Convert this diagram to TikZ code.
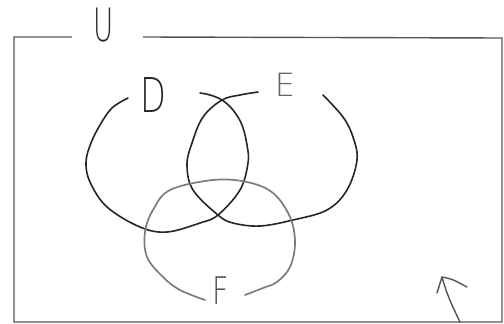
\documentclass[tikz,border=0pt]{standalone}
\usepackage{fontspec}
\newfontfamily\hand{DejaVu Sans ExtraLight}
\definecolor{ink}{HTML}{262626}
\definecolor{pencil}{HTML}{7C7C7C}
\definecolor{frame}{HTML}{555555}
\begin{document}
\begin{tikzpicture}[x=1pt,y=-1pt,
  boxline/.style={draw=frame,line width=1.4pt},
  setline/.style={draw=ink,line width=1.6pt,line cap=round,line join=round},
  fsetline/.style={draw=pencil,line width=1.7pt,line cap=round,line join=round},
  lbl/.style={inner sep=0pt,text=ink,font=\hand}]
\useasboundingbox (0,0) rectangle (504,324);
\fill[white] (0,0) rectangle (504,324);
% universal set frame
\coordinate (tl) at (14,37);
\coordinate (tlgap) at (72,37);
\coordinate (trgap) at (143,37);
\coordinate (tr) at (502,38);
\coordinate (br) at (502,322);
\coordinate (bl) at (14,322);
\draw[boxline] (tlgap) -- (tl) -- (bl) -- (br) -- (tr) -- (trgap);
\node[lbl,font=\hand\fontsize{46}{46}\selectfont,xscale=0.6] (U) at (104,25) {U};
% set D
\draw[setline] plot[smooth,tension=0.6] coordinates {(128,98) (112,108) (100,125) (91,143) (86,162) (90,182) (107,207) (140,227) (167,232) (200,223) (218,215) (240,190) (248,163) (247,145) (242,125) (233,110) (222,100) (210,95) (200,93)};
\node[lbl,font=\hand\fontsize{48}{48}\selectfont,xscale=0.7] (D) at (153,95) {D};
% set E
\draw[setline] plot[smooth,tension=0.6] coordinates {(258,92) (240,95) (222,100) (203,117) (192,143) (187,165) (193,190) (218,215) (233,223) (260,226) (293,220) (327,210) (347,190) (357,160) (353,137) (343,117) (323,95)};
\node[lbl,text=pencil!80!black,font=\hand\fontsize{32}{32}\selectfont] (E) at (285,85) {E};
% set F
\draw[fsetline] plot[smooth,tension=0.6] coordinates {(245,295) (263,288) (277,282) (290,267) (295,243) (290,217) (273,193) (247,182) (213,180) (170,190) (153,210) (145,232) (147,257) (163,277) (180,290) (205,300)};
\node[lbl,text=pencil!60!black,font=\hand\fontsize{38}{38}\selectfont,xscale=0.75] (F) at (221,291) {F};
% arrow
\coordinate (arrowtail) at (460,322);
\coordinate (arrowtip) at (442,277);
\coordinate (barbL) at (437,293);
\coordinate (barbR) at (467,287);
\draw[setline,draw=frame,line width=1.4pt] plot[smooth] coordinates {(arrowtail) (452,305) (446,290) (arrowtip)};
\draw[setline,draw=frame,line width=1.4pt] (barbL) -- (arrowtip) .. controls (452,279) .. (barbR);
\end{tikzpicture}
\end{document}
